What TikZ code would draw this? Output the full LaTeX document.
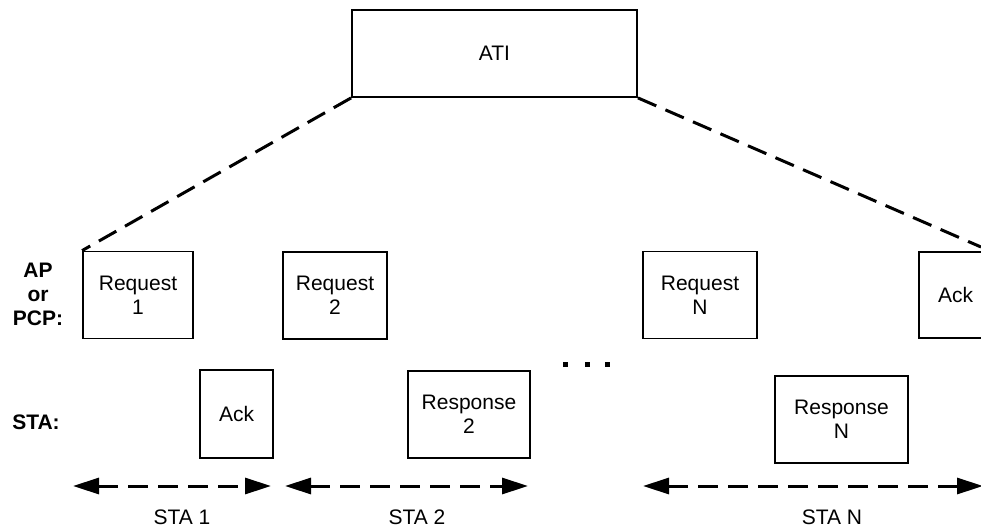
\documentclass[tikz,border=0pt]{standalone}
\usepackage{fontspec}
\setmainfont{Liberation Sans}
\usetikzlibrary{arrows.meta}
\begin{document}
\begin{tikzpicture}[x=1pt,y=-1pt,
  box/.style={draw,line width=1.8pt,align=center,inner sep=0pt,
    font=\fontsize{21}{24}\selectfont},
  lbl/.style={align=center,inner sep=0pt,font=\fontsize{21}{24}\selectfont\bfseries},
  txt/.style={inner sep=0pt,font=\fontsize{21}{24}\selectfont},
  dashline/.style={line width=3pt,dash pattern=on 20pt off 10pt},
  span/.style={line width=3pt,dash pattern=on 20pt off 10pt,
    {Triangle[length=26pt,width=16pt]}-{Triangle[length=26pt,width=16pt]}},
  dot/.style={fill=black,inner sep=0pt,minimum size=5pt}]
\useasboundingbox (0,0) rectangle (981,527);
\clip (0,0) rectangle (981,527);
\node[box,minimum width=285pt,minimum height=87pt] (ati) at (494.5,53.5) {ATI};
\node[box,minimum width=110pt,minimum height=87pt] (r1) at (138,295) {Request\\1};
\node[box,minimum width=104pt,minimum height=87pt] (r2) at (335,295.5) {Request\\2};
\node[box,minimum width=114pt,minimum height=87pt] (rn) at (700,295) {Request\\N};
\node[box,minimum width=73pt,minimum height=86pt] (ackn) at (955.5,295) {Ack};
\node[box,minimum width=73pt,minimum height=88pt] (ack1) at (236.5,414) {Ack};
\node[box,minimum width=122pt,minimum height=87pt] (resp2) at (469,414.5) {Response\\2};
\node[box,minimum width=133pt,minimum height=87pt] (respn) at (841.5,419.5) {Response\\N};
\node[lbl] (ap) at (38,294) {AP\\or\\PCP:};
\node[lbl] (sta) at (36,422) {STA:};
\node[dot] (d1) at (565,364) {};
\node[dot] (d2) at (587,364) {};
\node[dot] (d3) at (607,364) {};
\coordinate (offr) at (981,247);
\draw[dashline] (ati.south west) -- (r1.north west);
\draw[dashline] (ati.south east) -- (offr);
\coordinate (a1l) at (73,486);
\coordinate (a1r) at (271,486);
\coordinate (a2l) at (285,486);
\coordinate (a2r) at (528,486);
\coordinate (anl) at (643,486);
\coordinate (anr) at (983,486);
\draw[span] (a1l) -- (a1r);
\draw[span] (a2l) -- (a2r);
\draw[span] (anl) -- (anr);
\node[txt] (s1) at (182,517) {STA 1};
\node[txt] (s2) at (417,517) {STA 2};
\node[txt] (sn) at (832,517) {STA N};
\end{tikzpicture}
\end{document}
